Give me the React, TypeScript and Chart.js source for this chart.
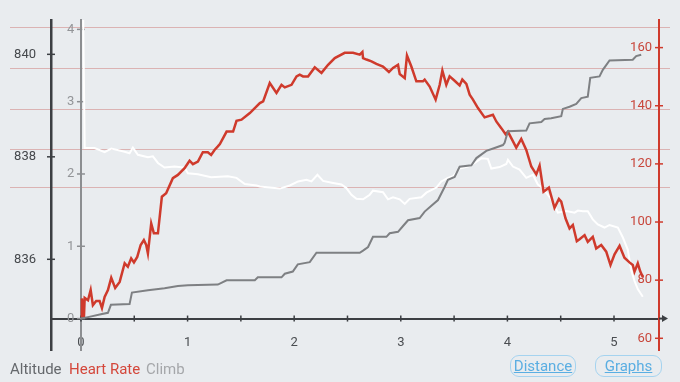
import React, { useEffect, useRef } from 'react';
import { Chart, registerables } from 'chart.js';

Chart.register(...registerables);

// ---- tick labels ----
const xMajorTicks = [0, 1, 2, 3, 4, 5];
const xMinorTicks = [0.5, 1.5, 2.5, 3.5, 4.5];
const altitudeTicks = [836, 838, 840];
const climbTicks = [0, 1, 2, 3, 4];
const heartRateTicks = [60, 80, 100, 120, 140, 160];
const heartRateZones = [112, 125, 139, 153, 167];

// ---- series: [distance, value] ----
const climbPoints: [number, number][] = [
  [0, 0], [0.066, 0.02], [0.187, 0.06], [0.253, 0.08], [0.281, 0.19], [0.456, 0.2], [0.478, 0.36],
  [0.628, 0.39], [0.784, 0.42], [0.909, 0.45], [1.003, 0.46], [1.284, 0.47], [1.366, 0.53],
  [1.631, 0.53], [1.659, 0.57], [1.881, 0.57], [1.912, 0.62], [1.987, 0.65], [2.034, 0.75],
  [2.146, 0.78], [2.209, 0.91], [2.615, 0.91], [2.646, 0.94], [2.693, 0.99], [2.739, 1.13],
  [2.865, 1.13], [2.896, 1.18], [2.974, 1.2], [3.021, 1.28], [3.068, 1.36], [3.177, 1.39],
  [3.224, 1.48], [3.287, 1.56], [3.349, 1.64], [3.411, 1.82], [3.442, 1.92], [3.505, 1.96],
  [3.552, 2.1], [3.662, 2.12], [3.709, 2.22], [3.802, 2.32], [3.88, 2.36], [3.958, 2.4],
  [3.974, 2.43], [4.005, 2.59], [4.177, 2.6], [4.208, 2.7], [4.318, 2.72], [4.349, 2.76],
  [4.411, 2.77], [4.505, 2.8], [4.52, 2.9], [4.583, 2.93], [4.646, 2.97], [4.693, 3.05],
  [4.754, 3.07], [4.777, 3.33], [4.864, 3.35], [4.895, 3.44], [4.958, 3.57], [5.176, 3.58],
  [5.208, 3.63], [5.255, 3.65],
];

const altitudePoints: [number, number][] = [
  [0.02, 840.9], [0.035, 838.17], [0.128, 838.17], [0.222, 838.09], [0.284, 838.16], [0.41, 838.1],
  [0.456, 838.07], [0.487, 838.18], [0.534, 838.04], [0.628, 837.99], [0.675, 838.01], [0.722, 837.88],
  [0.784, 837.79], [0.878, 837.81], [0.972, 837.79], [1.003, 837.68], [1.097, 837.66], [1.221, 837.6],
  [1.378, 837.62], [1.459, 837.59], [1.537, 837.47], [1.647, 837.44], [1.678, 837.42], [1.865, 837.38],
  [1.959, 837.44], [2.037, 837.52], [2.115, 837.55], [2.162, 837.52], [2.218, 837.65], [2.271, 837.53],
  [2.365, 837.49], [2.443, 837.46], [2.49, 837.39], [2.537, 837.26], [2.584, 837.18], [2.646, 837.17],
  [2.709, 837.26], [2.739, 837.34], [2.833, 837.31], [2.88, 837.17], [2.927, 837.21], [2.99, 837.17],
  [3.037, 837.08], [3.083, 837.18], [3.193, 837.21], [3.24, 837.3], [3.334, 837.4], [3.38, 837.52],
  [3.442, 837.59], [3.489, 837.62], [3.552, 837.77], [3.63, 837.81], [3.693, 837.88], [3.755, 837.97],
  [3.817, 837.96], [3.849, 837.77], [3.927, 837.8], [3.99, 837.86], [4.005, 837.94], [4.052, 837.81],
  [4.114, 837.75], [4.177, 837.59], [4.239, 837.65], [4.286, 837.46], [4.333, 837.39], [4.426, 837.13],
  [4.473, 836.91], [4.552, 836.94], [4.63, 836.91], [4.661, 836.95], [4.708, 836.94], [4.754, 836.94],
  [4.801, 836.78], [4.848, 836.68], [4.911, 836.62], [4.958, 836.67], [5.036, 836.62], [5.082, 836.43],
  [5.129, 836.19], [5.161, 835.79], [5.192, 835.58], [5.223, 835.42], [5.27, 835.27],
];

const heartRatePoints: [number, number][] = [
  [0.003, 67.3], [0.009, 73.7], [0.028, 67.3], [0.035, 73.9], [0.066, 73.1], [0.091, 76.6], [0.112, 71.4],
  [0.143, 72.8], [0.175, 72.8], [0.197, 70.4], [0.222, 74.2], [0.253, 76.6], [0.284, 80.8], [0.321, 77.3],
  [0.363, 79.4], [0.41, 85.8], [0.44, 84.6], [0.471, 87.5], [0.497, 86.1], [0.528, 88.0], [0.56, 92.1],
  [0.59, 93.8], [0.612, 92.1], [0.628, 89.2], [0.659, 99.5], [0.684, 96.1], [0.722, 96.1], [0.759, 108.7],
  [0.799, 109.9], [0.862, 115.1], [0.909, 116.2], [0.972, 118.5], [1.003, 120.2], [1.019, 121.1],
  [1.05, 119.9], [1.097, 120.8], [1.143, 124.0], [1.19, 124.0], [1.221, 123.1], [1.253, 124.8],
  [1.284, 126.0], [1.303, 126.8], [1.366, 131.1], [1.427, 131.1], [1.459, 134.8], [1.506, 135.2],
  [1.584, 137.5], [1.647, 139.8], [1.678, 140.9], [1.709, 141.5], [1.771, 147.8], [1.834, 144.4],
  [1.881, 147.2], [1.912, 146.3], [1.975, 147.2], [2.022, 150.1], [2.052, 150.7], [2.083, 150.1],
  [2.13, 150.1], [2.193, 153.2], [2.256, 151.3], [2.318, 154.1], [2.381, 156.4], [2.474, 158.2],
  [2.552, 158.2], [2.615, 157.6], [2.64, 158.5], [2.646, 156.4], [2.678, 155.9], [2.725, 155.3],
  [2.771, 154.4], [2.833, 153.5], [2.889, 151.6], [2.927, 153.0], [2.974, 154.1], [2.99, 150.9],
  [3.037, 149.5], [3.058, 157.3], [3.099, 153.5], [3.146, 148.4], [3.208, 148.4], [3.224, 149.0],
  [3.271, 146.6], [3.327, 142.1], [3.365, 147.2], [3.39, 152.1], [3.427, 147.2], [3.458, 150.1],
  [3.505, 148.6], [3.552, 147.0], [3.577, 149.0], [3.615, 147.5], [3.646, 143.8], [3.677, 142.1],
  [3.724, 139.2], [3.786, 136.0], [3.864, 136.9], [3.896, 134.6], [3.943, 132.3], [3.983, 130.2],
  [4.005, 131.1], [4.083, 125.6], [4.13, 128.6], [4.177, 124.8], [4.224, 119.1], [4.271, 116.4],
  [4.302, 119.4], [4.339, 110.4], [4.389, 111.8], [4.442, 104.9], [4.483, 107.9], [4.505, 107.0],
  [4.545, 101.3], [4.583, 97.8], [4.614, 99.0], [4.651, 93.4], [4.677, 94.1], [4.724, 95.5],
  [4.754, 93.2], [4.801, 94.9], [4.833, 90.9], [4.88, 92.1], [4.927, 89.8], [4.967, 85.2],
  [5.005, 88.9], [5.052, 91.8], [5.098, 87.7], [5.145, 86.1], [5.176, 85.2], [5.192, 82.9],
  [5.223, 85.8], [5.245, 83.1], [5.27, 81.1],
];

const BG = '#e9ecef';
const DARK = '#3c3f43';
const CLIMB_AXIS = '#8c8e91';
const RED = '#cf3a2c';
const FONT = 'Roboto';

const toXY = (pts: [number, number][]) => pts.map(([x, y]) => ({ x, y }));

const decorPlugin = {
  id: 'decor',
  beforeDraw(chart: any) {
    const ctx = chart.ctx;
    ctx.save();
    ctx.fillStyle = BG;
    ctx.fillRect(0, 0, chart.width, chart.height);
    const hr = chart.scales.hr;
    ctx.strokeStyle = '#dbb3b3';
    ctx.lineWidth = 1;
    heartRateZones.forEach((v) => {
      const y = Math.round(hr.getPixelForValue(v)) + 0.5;
      ctx.beginPath();
      ctx.moveTo(10, y);
      ctx.lineTo(670, y);
      ctx.stroke();
    });
    ctx.restore();
  },
  beforeDatasetsDraw(chart: any) {
    const ctx = chart.ctx;
    const { x, y, alt, hr } = chart.scales;
    const area = chart.chartArea;
    const y0 = y.getPixelForValue(0);
    const xLine = x.getPixelForValue(0);
    ctx.save();
    ctx.lineWidth = 1.5;
    ctx.strokeStyle = DARK;
    x.ticks.forEach((t: any) => {
      const px = x.getPixelForValue(t.value);
      ctx.beginPath();
      ctx.moveTo(px, y0 - 3);
      ctx.lineTo(px, y0 + 3);
      ctx.stroke();
    });
    ctx.lineWidth = 2;
    ctx.beginPath();
    ctx.moveTo(area.right, y0);
    ctx.lineTo(664, y0);
    ctx.stroke();
    ctx.fillStyle = DARK;
    ctx.beginPath();
    ctx.moveTo(668, y0);
    ctx.lineTo(662, y0 - 3.5);
    ctx.lineTo(662, y0 + 3.5);
    ctx.closePath();
    ctx.fill();
    ctx.lineWidth = 1.5;
    alt.ticks.forEach((t: any) => {
      const py = alt.getPixelForValue(t.value);
      ctx.beginPath();
      ctx.moveTo(area.left - 4, py);
      ctx.lineTo(area.left + 4, py);
      ctx.stroke();
    });
    ctx.strokeStyle = CLIMB_AXIS;
    y.ticks.forEach((t: any) => {
      const py = y.getPixelForValue(t.value);
      ctx.beginPath();
      ctx.moveTo(xLine - 4, py);
      ctx.lineTo(xLine + 4, py);
      ctx.stroke();
    });
    ctx.strokeStyle = RED;
    hr.ticks.forEach((t: any) => {
      const py = hr.getPixelForValue(t.value);
      ctx.beginPath();
      ctx.moveTo(area.right - 4, py);
      ctx.lineTo(area.right + 4, py);
      ctx.stroke();
    });
    ctx.restore();
  },
};

export default function App() {
  const canvasRef = useRef<HTMLCanvasElement | null>(null);

  useEffect(() => {
    const canvas = canvasRef.current;
    if (!canvas) return;
    const chart = new Chart(canvas, {
      type: 'line',
      data: {
        datasets: [
          {
            label: 'Climb',
            data: toXY(climbPoints),
            yAxisID: 'y',
            borderColor: '#7e8083',
            borderWidth: 2,
            pointRadius: 0,
          },
          {
            label: 'Heart Rate',
            data: toXY(heartRatePoints),
            yAxisID: 'hr',
            borderColor: RED,
            borderWidth: 2.5,
            pointRadius: 0,
          },
          {
            label: 'Altitude',
            data: toXY(altitudePoints),
            yAxisID: 'alt',
            borderColor: '#ffffff',
            borderWidth: 2,
            pointRadius: 0,
          },
        ],
      },
      plugins: [decorPlugin],
      options: {
        animation: false,
        responsive: false,
        devicePixelRatio: 1,
        parsing: false as any,
        layout: { padding: { top: 20, bottom: 32, left: 0, right: 0 } },
        plugins: { legend: { display: false }, tooltip: { enabled: false } },
        scales: {
          x: {
            type: 'linear',
            min: -0.281,
            max: 5.422,
            position: { y: 0 } as any,
            grid: { display: false },
            border: { display: true, color: DARK, width: 2 },
            afterBuildTicks: (s: any) => {
              s.ticks = [...xMajorTicks, ...xMinorTicks].sort((a, b) => a - b).map((v) => ({ value: v }));
            },
            ticks: {
              autoSkip: false,
              maxRotation: 0,
              padding: 8,
              color: '#4a4d51',
              font: { family: FONT, size: 13 },
              callback: (v: any) => (xMajorTicks.includes(Number(v)) ? String(v) : ''),
            },
          },
          y: {
            type: 'linear',
            min: -0.435,
            max: 4.13,
            position: { x: 0 } as any,
            grid: { display: false },
            border: { display: true, color: CLIMB_AXIS, width: 2 },
            afterBuildTicks: (s: any) => {
              s.ticks = climbTicks.map((v) => ({ value: v }));
            },
            ticks: {
              padding: 7,
              color: '#939598',
              font: { family: FONT, size: 13 },
              callback: (v: any) => String(v) + '\u2002',
            },
          },
          alt: {
            type: 'linear',
            axis: 'y',
            position: 'left',
            min: 834.23,
            max: 840.67,
            grid: { display: false },
            border: { display: true, color: DARK, width: 2.5 },
            afterBuildTicks: (s: any) => {
              s.ticks = altitudeTicks.map((v) => ({ value: v }));
            },
            afterFit: (s: any) => {
              s.width = 51;
            },
            ticks: {
              padding: 7,
              color: '#45484c',
              font: { family: FONT, size: 13 },
              callback: (v: any) => String(v),
            },
          },
          hr: {
            type: 'linear',
            axis: 'y',
            position: 'right',
            min: 55.97,
            max: 169.5,
            grid: { display: false },
            border: { display: true, color: RED, width: 2 },
            afterBuildTicks: (s: any) => {
              s.ticks = heartRateTicks.map((v) => ({ value: v }));
            },
            afterFit: (s: any) => {
              s.width = 21;
            },
            ticks: {
              mirror: true,
              padding: -7,
              color: '#c8463b',
              font: { family: FONT, size: 13 },
              callback: (v: any) => String(v),
            },
          },
        },
      } as any,
    });
    return () => chart.destroy();
  }, []);

  const legendStyle: React.CSSProperties = {
    position: 'absolute',
    top: 359,
    fontFamily: FONT,
    fontSize: 15,
    lineHeight: '20px',
  };
  const buttonStyle: React.CSSProperties = {
    position: 'absolute',
    top: 355,
    height: 20,
    border: '1.5px solid #a5d3ef',
    borderRadius: 9,
    color: '#5aaee2',
    fontFamily: FONT,
    fontSize: 15,
    lineHeight: '20px',
    textAlign: 'center',
    textDecoration: 'underline',
    boxSizing: 'content-box',
  };

  return (
    <div style={{ position: 'fixed', left: 0, top: 0, width: 680, height: 382, background: BG, overflow: 'hidden' }}>
      <canvas ref={canvasRef} width={680} height={382} style={{ position: 'absolute', left: 0, top: 0 }} />
      <span style={{ ...legendStyle, left: 10, color: '#65686c' }}>Altitude</span>
      <span style={{ ...legendStyle, left: 69, color: '#d4473b' }}>Heart Rate</span>
      <span style={{ ...legendStyle, left: 146, color: '#a5a7aa' }}>Climb</span>
      <div style={{ ...buttonStyle, left: 510, width: 64 }}>Distance</div>
      <div style={{ ...buttonStyle, left: 595, width: 65 }}>Graphs</div>
    </div>
  );
}
